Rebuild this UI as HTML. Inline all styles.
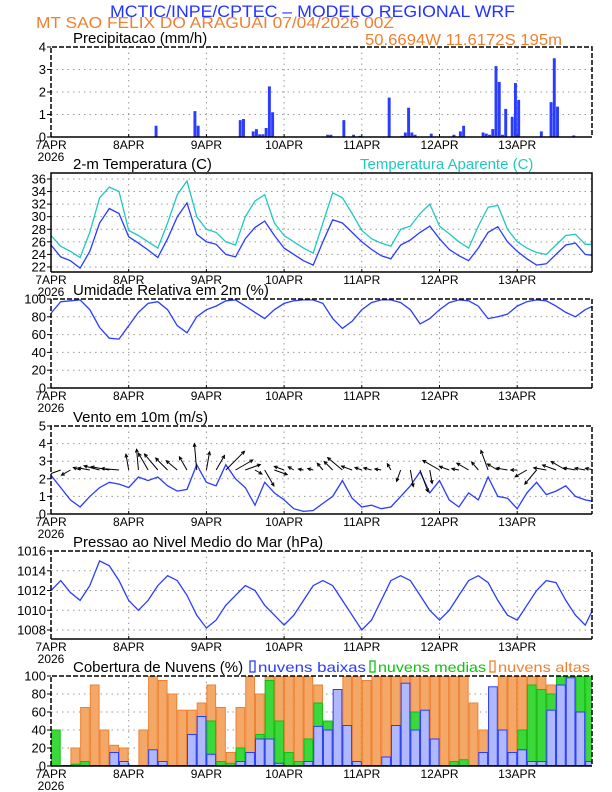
<!DOCTYPE html>
<html><head><meta charset="utf-8"><style>
html,body{margin:0;padding:0;background:#fff}
svg{display:block;font-family:"Liberation Sans",sans-serif}
</style></head><body>
<svg id="chart" width="612" height="792" viewBox="0 0 612 792" xmlns="http://www.w3.org/2000/svg">
<text x="110" y="17" font-size="17" fill="#2233ff" textLength="405" lengthAdjust="spacingAndGlyphs">MCTIC/INPE/CPTEC – MODELO REGIONAL WRF</text>
<text x="36" y="28" font-size="16" fill="#f08030" textLength="358" lengthAdjust="spacingAndGlyphs">MT SAO FELIX DO ARAGUAI   07/04/2026 00Z</text>
<text x="365" y="45" font-size="16" fill="#f08030" textLength="197" lengthAdjust="spacingAndGlyphs">50.6694W 11.6172S 195m</text>
<g id="g"></g>
</svg>
<script>
const days=['7APR','8APR','9APR','10APR','11APR','12APR','13APR'];
const precipHours=[32,44,45,58,59,62,63,64,65,66,67,68,85,86,90,93,95,104,108,109,110,111,112,117,124,126,127,133,134,135,136,137,138,139,140,142,143,144,151,154,155,156,161];
const precipVals=[0.5,1.15,0.5,0.75,0.8,0.25,0.35,0.12,0.12,0.4,2.25,1.1,0.1,0.1,0.75,0.1,0.05,1.75,0.05,0.2,1.3,0.2,0.1,0.15,0.1,0.25,0.5,0.2,0.15,0.1,0.35,3.15,2.45,0.1,1.25,0.9,2.4,1.65,0.25,1.55,3.5,1.35,0.07];
const temp2m=[25.5,23.6,23.0,21.8,24.5,29.0,31.3,30.5, 26.8,25.8,24.7,23.5,26.5,30.0,32.2,27.2, 26.0,25.6,24.0,23.6,26.5,28.3,29.3,27.0, 25.0,24.0,23.0,22.3,26.0,29.5,29.0,27.5, 26.0,24.8,23.8,23.3,25.5,26.3,27.5,28.5, 26.5,24.8,23.8,23.0,25.0,27.5,28.4,26.0, 24.5,23.3,22.3,22.5,24.0,25.5,25.8,24.0,23.8];
const tempApar=[27.0,25.3,24.5,23.5,27.5,33.0,34.7,34.0, 27.8,27.0,26.0,25.0,29.0,33.5,35.7,30.0, 28.0,27.5,26.0,25.5,30.0,32.5,33.5,29.0, 27.0,26.0,25.0,24.2,29.0,33.8,33.0,30.5, 27.8,26.5,25.8,25.3,28.0,28.5,30.5,32.0, 28.5,27.3,26.0,25.0,28.5,31.5,31.8,28.0, 26.0,25.0,24.3,24.0,25.5,27.0,27.2,25.6,25.6];
const humidity=[84,97,98,99,88,68,56,55, 70,85,95,97,88,70,62,80, 88,92,98,99,92,85,78,88, 95,98,99,99,95,78,67,75, 88,96,99,99,96,88,72,78, 88,96,99,98,92,78,80,83, 92,97,99,98,92,85,80,88,93];
const windSpeed=[2.2,1.5,0.8,0.4,1.0,1.5,1.8,1.7, 1.5,2.1,1.9,2.1,1.6,1.3,1.4,2.8, 1.8,1.6,2.8,2.0,1.5,0.5,1.8,1.2, 0.8,0.3,0.15,0.2,0.6,1.0,1.9,0.9, 0.4,0.5,0.3,0.4,1.0,1.6,2.4,1.2, 1.9,0.8,0.4,1.2,0.8,2.1,1.0,0.9, 0.3,1.2,1.8,1.1,1.3,1.6,1.0,0.8,0.7];
const windDir=[180,200,210,160,170,165,170,175, 100,95,120,130,135,140,120,95, 80,60,45,30,20,-30,-60,-20, 160,150,170,165,130,135,140,160, 160,165,170,120,-110,-80,-70,-80, 150,160,170,150,130,110,150,170, 180,-150,-130,170,160,150,170,170,170];
const pressure=[1012,1013,1011.8,1011,1012.5,1015,1014.5,1013, 1011,1010,1011,1012.5,1013.5,1013,1011.5,1009.5, 1008.2,1009,1010.5,1011.5,1012.5,1012,1010.5,1009.5, 1008.5,1009.5,1011,1012.5,1013,1012.5,1011,1009.5, 1008,1009,1011,1013,1013.5,1013,1011.5,1010, 1009,1010,1011.5,1013,1013.5,1012.8,1011,1009.5, 1009,1010.5,1012,1013,1012.8,1011,1009.5,1008.5,1010.5];
const cloudHigh=[0,0,20,65,90,40,23,20, 0,40,100,95,80,62,62,70, 90,65,15,65,100,80,100,100, 100,100,100,90,40,60,100,100, 95,100,100,100,100,100,100,100, 100,100,100,70,40,80,100,100, 100,100,100,90,80,80,80,80];
const cloudMid=[40,0,2,5,0,0,0,0, 0,0,0,0,0,0,25,20, 50,5,3,20,10,35,95,50, 15,5,30,70,50,10,7,3, 0,0,0,5,60,60,25,5, 0,5,7,0,0,0,30,12, 40,90,85,80,100,100,100,100];
const cloudLow=[0,0,0,0,0,0,15,5, 0,0,18,5,0,0,35,55, 13,0,0,5,15,30,30,3, 0,0,5,44,40,85,45,5, 0,0,10,45,92,40,62,30, 0,0,0,0,15,88,40,15, 18,5,5,62,90,98,60,5];
const yTicks1=[0,1,2,3,4], yTicks2=[22,24,26,28,30,32,34,36], yTicks3=[0,20,40,60,80,100], yTicks4=[0,1,2,3,4,5], yTicks5=[1008,1010,1012,1014,1016];

const NS='http://www.w3.org/2000/svg';
const G=document.getElementById('g');
const X0=51,X1=592,DAY=77.7;
const xh=h=>X0+h*DAY/24;
function el(t,a,p){const e=document.createElementNS(NS,t);for(const k in a)e.setAttribute(k,a[k]);(p||G).appendChild(e);return e;}
function mkY(top,bot,lo,hi){return v=>bot-(v-lo)/(hi-lo)*(bot-top);}
function panel(name,top,bot,lo,hi,ticks,title,solidTop){
  const y=mkY(top,bot,lo,hi);
  const g=el('g',{});
  
  
  const cp=el('clipPath',{id:'c'+name},g);el('rect',{x:X0,y:top,width:X1-X0,height:bot-top},cp);
  for(let d=1;d<7;d++){const l=el('line',{x1:xh(d*24),x2:xh(d*24),y1:top,y2:bot,stroke:'#999','stroke-dasharray':'1.5,4'},g);
    }
  ticks.forEach(t=>{const yy=y(t);
    if(yy>top+1&&yy<bot-1){const l=el('line',{x1:X0,x2:X1,y1:yy,y2:yy,stroke:'#999','stroke-dasharray':'1.5,4'},g);
      }
    el('line',{x1:X0-4,x2:X0,y1:yy,y2:yy,stroke:'#000'},g);
    const tx=el('text',{x:X0-5,y:yy+4.5,'font-size':13,'text-anchor':'end'},g);tx.textContent=t;
    });
  days.forEach((dl,i)=>{const tx=el('text',{x:xh(i*24),y:bot+12,'font-size':12,'text-anchor':'middle'},g);tx.textContent=dl;
    
    el('line',{x1:xh(i*24),x2:xh(i*24),y1:bot,y2:bot-3,stroke:'#000'},g);});
  const yr=el('text',{x:X0,y:bot+24,'font-size':12,'text-anchor':'middle'},g);yr.textContent='2026';
  
  const tt=el('text',{x:73,y:top-4,'font-size':15},g);tt.textContent=title;
  
  const data=el('g',{'clip-path':'url(#c'+name+')'},g);
  
  const fr=el('g',{},g);
  el('path',{d:`M${X0},${bot}V${top}H${X1}V${bot}`,fill:'none',stroke:'#000','stroke-width':1.5,'stroke-dasharray':solidTop?'none':'5,2'},fr);
  el('line',{x1:X0,x2:X1,y1:bot,y2:bot,stroke:'#000','stroke-width':1.5},fr);
  return {y,data,g};
}
function line(p,arr,color,name){
  const pts=arr.map((v,i)=>xh(i*3).toFixed(1)+','+p.y(v).toFixed(1)).join(' ');
  const l=el('polyline',{points:pts,fill:'none',stroke:color,'stroke-width':1.3},p.data);
  
}
const p1=panel('precip',47,137,0,4,yTicks1,'Precipitacao (mm/h)');
precipHours.forEach((h,i)=>{const b=el('rect',{x:xh(h),y:p1.y(precipVals[i]),width:DAY/24-0.3,height:p1.y(0)-p1.y(precipVals[i]),fill:'#2a3cff'},p1.data);
  });
const p2=panel('temp',173,272,21.2,36.95,yTicks2,'2-m Temperatura (C)',true);
line(p2,tempApar,'#22c8c0','apparent-temp-line');
line(p2,temp2m,'#2a3cff','temp-2m-line');
const at=el('text',{x:360,y:169,'font-size':15,fill:'#22c8c0'},p2.g);at.textContent='Temperatura Aparente (C)';

const p3=panel('humidity',299,388,0,100,yTicks3,'Umidade Relativa em 2m (%)');
line(p3,humidity,'#2a3cff','humidity-line');
const p4=panel('wind',426,514,0,5,yTicks4,'Vento em 10m (m/s)');
line(p4,windSpeed,'#2a3cff','wind-speed-line');
windDir.forEach((d,i)=>{const x=xh(i*3),y=p4.y(2.5),L=4+windSpeed[i]*8,a=d*Math.PI/180;
  const x2=x+L*Math.cos(a),y2=y-L*Math.sin(a);
  const g=el('g',{},p4.data);
  
  el('line',{x1:x,y1:y,x2:x2,y2:y2,stroke:'#000','stroke-width':1},g);
  const h1=a+Math.PI-0.45,h2=a+Math.PI+0.45;
  el('polyline',{points:`${x2+3.5*Math.cos(h1)},${y2-3.5*Math.sin(h1)} ${x2},${y2} ${x2+3.5*Math.cos(h2)},${y2-3.5*Math.sin(h2)}`,fill:'none',stroke:'#000','stroke-width':1},g);});
const p5=panel('pressure',551,639,1007.09,1016,yTicks5,'Pressao ao Nivel Medio do Mar (hPa)');
line(p5,pressure,'#2a3cff','pressure-line');
const p6=panel('clouds',676,766,0,100,yTicks3,'Cobertura de Nuvens (%)');
function cbars(arr,fill,stroke,name){arr.forEach((v,i)=>{if(v<=0)return;
  const b=el('rect',{x:xh(i*3)+0.5,y:p6.y(v),width:3*DAY/24-1,height:p6.y(0)-p6.y(v),fill:fill,stroke:stroke,'stroke-width':1},p6.data);
  });}
cbars(cloudHigh,'#f4a868','#f08030','high-cloud-bar');
cbars(cloudMid,'#3ad83a','#10c010','mid-cloud-bar');
cbars(cloudLow,'#b0b8ff','#2a3cff','low-cloud-bar');
el('line',{x1:X0,x2:X1,y1:766,y2:766,stroke:'#2a3cff','stroke-width':2},p6.data);
const leg=[['nuvens baixas','#2a3cff',250,108,'legend-low-clouds'],['nuvens medias','#10c010',370,108,'legend-mid-clouds'],['nuvens altas','#f08030',490,92,'legend-high-clouds']];
leg.forEach(([t,c,x,w,n])=>{const g=el('g',{},p6.g);
  
  el('rect',{x:x,y:661,width:5,height:11,fill:'none',stroke:c,'stroke-width':1.3},g);
  const tx=el('text',{x:x+8,y:672,'font-size':14,fill:c,textLength:w,lengthAdjust:'spacingAndGlyphs'},g);tx.textContent=t;});
</script>
</body></html>
